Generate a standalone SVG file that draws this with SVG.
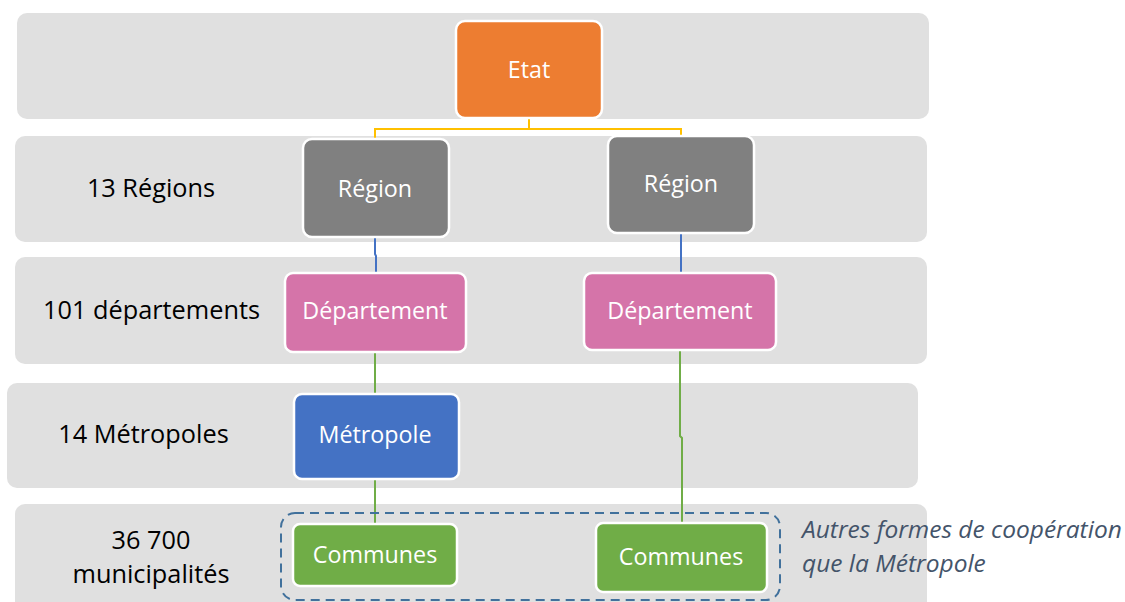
<svg xmlns="http://www.w3.org/2000/svg" width="1125" height="602" viewBox="0 0 1125 602">
<style>
.band{fill:#E0E0E0}
.node{stroke:#FFFFFF;stroke-width:2.5}
.nt{font-family:"Open Sans","Noto Sans",sans-serif;font-size:23.3px;fill:#FFFFFF;text-anchor:middle}
.lbl{font-family:"Open Sans","Noto Sans",sans-serif;font-size:25.3px;fill:#000000;text-anchor:middle}
.note{font-family:"Open Sans","Noto Sans",sans-serif;font-size:24.5px;font-style:italic;fill:#44546A}
.c{fill:none;stroke-width:2}
</style>
<g id="bands">
<rect class="band" x="17" y="13" width="912" height="106" rx="10"/>
<rect class="band" x="15" y="136" width="912" height="106" rx="10"/>
<rect class="band" x="15" y="257" width="912" height="107" rx="10"/>
<rect class="band" x="7" y="383" width="911" height="105" rx="10"/>
<rect class="band" x="15" y="504" width="912" height="110" rx="10"/>
</g>
<g id="labels">
<text class="lbl" x="151" y="197">13 Régions</text>
<text class="lbl" x="151.5" y="319">101 départements</text>
<text class="lbl" x="143.5" y="443">14 Métropoles</text>
<text class="lbl" x="151" y="549">36 700</text>
<text class="lbl" x="151" y="583">municipalités</text>
</g>
<g id="connectors">
<path class="c" stroke="#FFC000" d="M375,139 V129 H681 V136 M529,118 V129"/>
<path class="c" stroke="#4472C4" d="M375,237 V254 L376,256 V273 M681,233 V273"/>
<path class="c" stroke="#70AD47" d="M375,352 V394 M375,479 V524 M680,350 V436 L682,438 V523"/>
</g>
<g id="group-box">
<rect x="281" y="513" width="499" height="87" rx="14" fill="none" stroke="#41719C" stroke-width="2" stroke-dasharray="9,6"/>
</g>
<g id="etat">
<rect class="node" x="456" y="21" width="146" height="97" rx="9" fill="#ED7D31"/>
<text class="nt" x="529" y="78">Etat</text>
</g>
<g id="region-1">
<rect class="node" x="303" y="139" width="146" height="98" rx="9" fill="#808080"/>
<text class="nt" x="375" y="197">Région</text>
</g>
<g id="region-2">
<rect class="node" x="608" y="136" width="146" height="97" rx="9" fill="#808080"/>
<text class="nt" x="681" y="192">Région</text>
</g>
<g id="departement-1">
<rect class="node" x="285" y="273" width="181" height="79" rx="8" fill="#D574A9"/>
<text class="nt" x="375" y="319">Département</text>
</g>
<g id="departement-2">
<rect class="node" x="584" y="273" width="192" height="77" rx="8" fill="#D574A9"/>
<text class="nt" x="680" y="319">Département</text>
</g>
<g id="metropole">
<rect class="node" x="294" y="394" width="165" height="85" rx="8" fill="#4472C4"/>
<text class="nt" x="375" y="443">Métropole</text>
</g>
<g id="communes-1">
<rect class="node" x="293" y="524" width="164" height="62" rx="7" fill="#70AD47"/>
<text class="nt" x="375" y="563">Communes</text>
</g>
<g id="communes-2">
<rect class="node" x="596" y="523" width="171" height="69" rx="7" fill="#70AD47"/>
<text class="nt" x="681" y="565">Communes</text>
</g>
<g id="note">
<text class="note" x="802" y="538">Autres formes de coopération</text>
<text class="note" x="802" y="572">que la Métropole</text>
</g>
</svg>
